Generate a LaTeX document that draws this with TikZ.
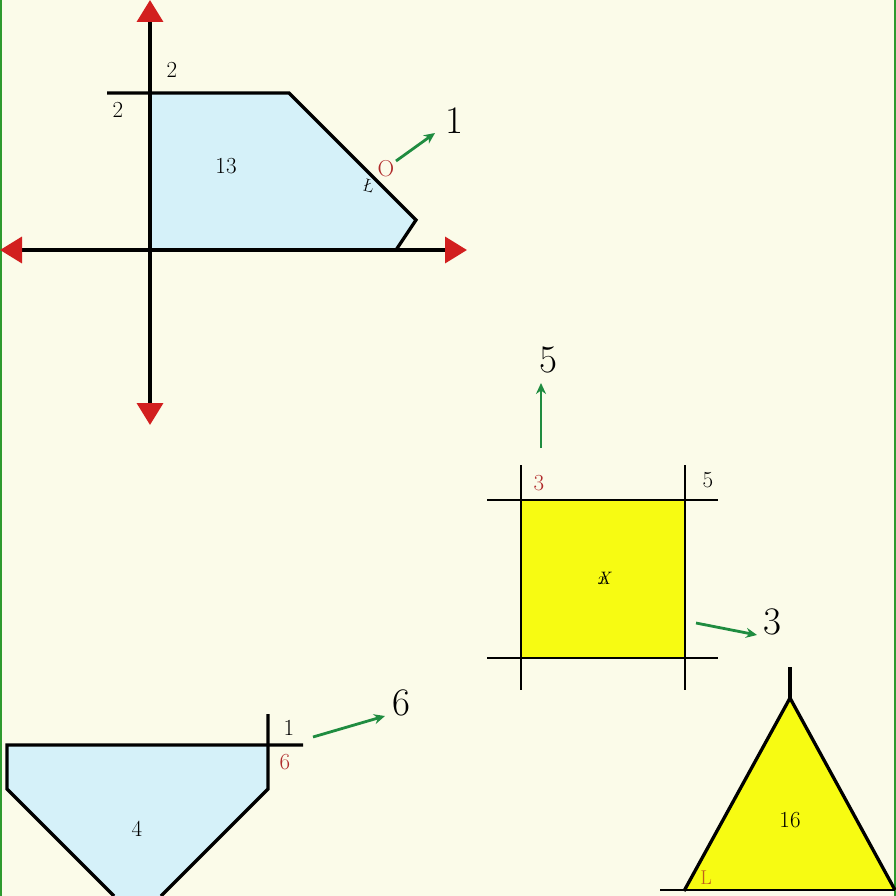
\documentclass[tikz,border=0pt]{standalone}
\usetikzlibrary{arrows.meta}
\definecolor{bg}{HTML}{FBFBE9}
\definecolor{lblue}{HTML}{D5F1F9}
\definecolor{yel}{HTML}{F7FB12}
\definecolor{axred}{HTML}{D21F1F}
\definecolor{grn}{HTML}{1F8C40}
\definecolor{txred}{HTML}{B02A2A}
\definecolor{txorange}{HTML}{C0601A}
\definecolor{frame}{HTML}{2E9A2E}
\begin{document}
\begin{tikzpicture}[x=1pt,y=-1pt,
  axis/.style={line width=3.6pt,black,{Triangle[width=26pt,length=22pt,color=axred]}-{Triangle[width=26pt,length=22pt,color=axred]}},
  shapeline/.style={line width=3.3pt,black,line join=miter},
  thinline/.style={line width=2.8pt,black},
  garrow/.style={line width=2.8pt,grn,-{Stealth[length=11pt,width=10pt]}},
  small/.style={font=\fontsize{23}{23}\selectfont,inner sep=0pt},
  big/.style={font=\fontsize{39}{39}\selectfont,inner sep=0pt}]
\useasboundingbox (0,0) rectangle (896,896);
\fill[bg] (0,0) rectangle (896,896);
\draw[frame,line width=2.5pt] (1,0) -- (1,896);
\draw[frame,line width=2.5pt] (895,0) -- (895,896);

% ---- top-left figure
\fill[lblue] (150,93) -- (289,93) -- (416,220) -- (396,250) -- (150,250) -- cycle;
\draw[shapeline] (107,93) -- (289,93) -- (416,220) -- (396,250);
\draw[shapeline] (150,250) -- (396,250);
\coordinate (ytop) at (150,0);
\coordinate (ybot) at (150,425);
\coordinate (xl) at (0,250);
\coordinate (xr) at (467,250);
\draw[axis] (ybot) -- (ytop);
\draw[axis] (xl) -- (xr);
\node[small] (t2a) at (172,70) {2};
\node[small] (t2b) at (118,110) {2};
\node[small] (t13) at (226,166) {13};
\node[small,txred] (tO) at (386,169) {O};
\node[small,rotate=-15,font=\fontsize{18}{18}\selectfont] (tL) at (369,186) {\L};
\coordinate (g1s) at (396,161);
\coordinate (g1e) at (435,133);
\draw[garrow] (g1s) -- (g1e);
\node[big] (t1) at (454,121) {1};

% ---- square
\fill[yel] (521,500) rectangle (685,658);
\draw[thinline] (487,500) -- (718,500);
\draw[thinline] (487,658) -- (718,658);
\draw[thinline] (521,465) -- (521,690);
\draw[thinline] (685,465) -- (685,690);
\node[small,txred] (t3r) at (539,483) {3};
\node[small] (t5s) at (708,480) {5};
\node[small,font=\fontsize{18}{18}\selectfont\itshape] (tx) at (604,578) {x\kern-0.45em X};
\coordinate (g5s) at (541,448);
\coordinate (g5e) at (541,383);
\draw[garrow] (g5s) -- (g5e);
\node[big] (t5) at (548,360) {5};
\coordinate (g3s) at (696,623);
\coordinate (g3e) at (757,635);
\draw[garrow] (g3s) -- (g3e);
\node[big] (t3) at (772,622) {3};

% ---- bottom-left figure
\fill[lblue] (7,745) -- (268,745) -- (268,789) -- (161,896) -- (114,896) -- (7,789) -- cycle;
\draw[shapeline] (114,896) -- (7,789) -- (7,745) -- (303,745);
\draw[shapeline] (161,896) -- (268,789) -- (268,714);
\node[small] (t1s) at (289,728) {1};
\node[small,txred] (t6r) at (285,762) {6};
\node[small] (t4) at (137,829) {4};
\coordinate (g6s) at (313,737);
\coordinate (g6e) at (385,716);
\draw[garrow] (g6s) -- (g6e);
\node[big] (t6) at (401,703) {6};

% ---- triangle
\fill[yel] (790,698) -- (895,890) -- (684,890) -- cycle;
\draw[shapeline] (790,667) -- (790,698);
\draw[shapeline] (684,891) -- (790,698) -- (895,890);
\draw[thinline] (660,890) -- (895,890);
\node[small] (t16) at (790,820) {16};
\node[small,txorange,font=\fontsize{20}{20}\selectfont] (tLo) at (706,878) {L};
\end{tikzpicture}
\end{document}
